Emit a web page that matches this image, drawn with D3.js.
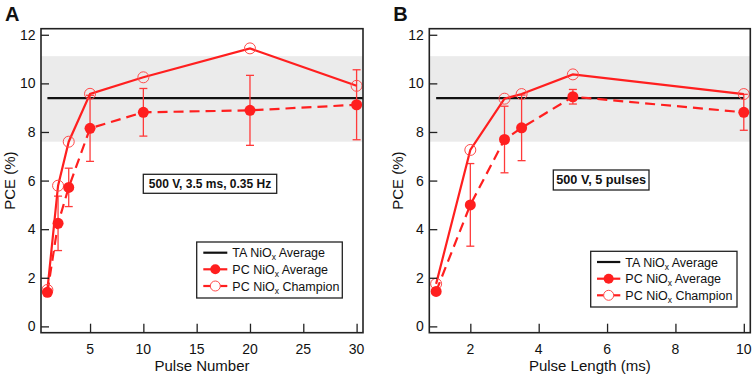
<!DOCTYPE html>
<html><head><meta charset="utf-8">
<script src="https://cdn.jsdelivr.net/npm/d3@7"></script>
<style>body{margin:0;background:#fff}svg{display:block}text{font-family:Arial,"Liberation Sans",sans-serif;fill:#111}</style>
</head><body><svg id="c" width="754" height="374"></svg>
<script>
// ---- data ----
const pulseNumber = [1, 2, 3, 5, 10, 20, 30];
const avgA   = [1.40, 4.24, 5.72, 8.15, 8.81, 8.89, 9.12];
const errA   = [0.10, 1.12, 0.79, 1.36, 0.98, 1.44, 1.44];
const champA = [1.50, 5.79, 7.60, 9.57, 10.25, 11.44, 9.90];

const pulseLength = [1, 2, 3, 3.5, 5, 10];
const avgB   = [1.44, 5.00, 7.69, 8.17, 9.45, 8.81];
const errB   = [0.10, 1.70, 1.37, 1.35, 0.30, 0.74];
const champB = [1.75, 7.26, 9.37, 9.56, 10.37, 9.56];

const taAverage = 9.39;
const taBand = [7.60, 11.12];

const yTicks = [0, 2, 4, 6, 8, 10, 12];
const xTicksA = [5, 10, 15, 20, 25, 30];
const xTicksB = [2, 4, 6, 8, 10];
const legendLabels = ["TA NiO|x| Average", "PC NiO|x| Average", "PC NiO|x| Champion"];

const svg = d3.select("#c");
const RED = "#ff1f1f", RED2 = "#ff4a4a", ERR = "#ff3a3a";

function panel(o) {
  const x = d3.scaleLinear().domain(o.xDom).range([o.left, o.right]);
  const y = d3.scaleLinear().domain([-0.26, 12.25]).range([332.7, 28.7]);
  const g = svg.append("g");
  // band
  g.append("rect").attr("x", o.left).attr("width", o.right - o.left)
    .attr("y", y(taBand[1])).attr("height", y(taBand[0]) - y(taBand[1])).attr("fill", "#ebebeb");
  // TA average line
  g.append("line").attr("x1", x(1)).attr("x2", x(o.taEnd)).attr("y1", y(taAverage)).attr("y2", y(taAverage))
    .attr("stroke", "#111").attr("stroke-width", 2.2);
  // error bars
  const eb = g.append("g").attr("stroke", ERR).attr("stroke-width", 1.3);
  o.xs.forEach((xv, i) => {
    const cx = x(xv), y1 = y(o.avg[i] - o.err[i]), y2 = y(o.avg[i] + o.err[i]);
    eb.append("line").attr("x1", cx).attr("x2", cx).attr("y1", y1).attr("y2", y2);
    eb.append("line").attr("x1", cx - 4).attr("x2", cx + 4).attr("y1", y1).attr("y2", y1);
    eb.append("line").attr("x1", cx - 4).attr("x2", cx + 4).attr("y1", y2).attr("y2", y2);
  });
  const line = d3.line().x(d => x(d[0])).y(d => y(d[1]));
  g.append("path").attr("d", line(o.xs.map((v, i) => [v, o.avg[i]])))
    .attr("fill", "none").attr("stroke", RED).attr("stroke-width", 2.2).attr("stroke-dasharray", "10,6");
  g.append("path").attr("d", line(o.xs.map((v, i) => [v, o.champ[i]])))
    .attr("fill", "none").attr("stroke", RED).attr("stroke-width", 2.2);
  o.xs.forEach((xv, i) => {
    g.append("circle").attr("cx", x(xv)).attr("cy", y(o.champ[i])).attr("r", 5.5)
      .attr("fill", "none").attr("stroke", RED2).attr("stroke-width", 1);
  });
  o.xs.forEach((xv, i) => {
    g.append("circle").attr("cx", x(xv)).attr("cy", y(o.avg[i])).attr("r", 5.5).attr("fill", RED);
  });
  // frame
  g.append("rect").attr("x", o.left).attr("y", 28.7).attr("width", o.right - o.left).attr("height", 304)
    .attr("fill", "none").attr("stroke", "#222").attr("stroke-width", 1.6);
  // axes (inward ticks)
  const ya = g.append("g").attr("transform", `translate(${o.left},0)`)
    .call(d3.axisRight(y).tickValues(yTicks).tickSize(8).tickFormat(""));
  ya.select(".domain").remove();
  ya.selectAll("line").attr("stroke", "#222").attr("stroke-width", 1.3);
  yTicks.forEach(t => g.append("text").attr("x", o.left - 5.5).attr("y", y(t) + 5)
    .attr("text-anchor", "end").attr("font-size", 14).text(t));
  const xa = g.append("g").attr("transform", `translate(0,332.7)`)
    .call(d3.axisTop(x).tickValues(o.xTicks).tickSize(9).tickFormat(""));
  xa.select(".domain").remove();
  xa.selectAll("line").attr("stroke", "#222").attr("stroke-width", 1.3);
  o.xTicks.forEach(t => g.append("text").attr("x", x(t)).attr("y", 353.5)
    .attr("text-anchor", "middle").attr("font-size", 14).text(t));
  // titles
  g.append("text").attr("x", (o.left + o.right) / 2).attr("y", 370.5).attr("text-anchor", "middle")
    .attr("font-size", 15).text(o.xTitle);
  g.append("text").attr("transform", `translate(${o.left - 26},180.7) rotate(-90)`).attr("text-anchor", "middle")
    .attr("font-size", 15).text("PCE (%)");
  g.append("text").attr("x", o.left - 36).attr("y", 21).attr("font-size", 20).attr("font-weight", "bold").text(o.letter);
  // annotation
  g.append("rect").attr("x", o.ann.x0).attr("y", o.ann.y0).attr("width", o.ann.x1 - o.ann.x0)
    .attr("height", o.ann.y1 - o.ann.y0).attr("fill", "#fff").attr("stroke", "#222").attr("stroke-width", 1.3);
  g.append("text").attr("x", (o.ann.x0 + o.ann.x1) / 2).attr("y", (o.ann.y0 + o.ann.y1) / 2 + 4.3)
    .attr("text-anchor", "middle").attr("font-weight", "bold").attr("font-size", o.ann.fs).text(o.ann.text);
  // legend
  const L = o.leg;
  g.append("rect").attr("x", L.x0).attr("y", L.y0).attr("width", L.x1 - L.x0).attr("height", L.y1 - L.y0)
    .attr("fill", "#fff").attr("stroke", "#222").attr("stroke-width", 1.3);
  legendLabels.forEach((lab, i) => {
    const ry = L.rows[i];
    g.append("line").attr("x1", L.sx0).attr("x2", L.sx1).attr("y1", ry).attr("y2", ry)
      .attr("stroke", i === 0 ? "#111" : RED).attr("stroke-width", 2.2);
    const mx = (L.sx0 + L.sx1) / 2;
    if (i === 1) g.append("circle").attr("cx", mx).attr("cy", ry).attr("r", 5).attr("fill", RED);
    if (i === 2) g.append("circle").attr("cx", mx).attr("cy", ry).attr("r", 5).attr("fill", "#fff")
      .attr("stroke", RED2).attr("stroke-width", 1);
    const parts = lab.split("|");
    const t = g.append("text").attr("x", L.tx).attr("y", ry + 4.5).attr("font-size", 12.5);
    t.append("tspan").text(parts[0]);
    t.append("tspan").attr("font-size", 8.5).attr("dy", 3).text(parts[1]);
    t.append("tspan").attr("dy", -3).text(parts[2]);
  });
}

panel({
  left: 41, right: 363, xDom: [0.4, 30.6], taEnd: 30.6, xs: pulseNumber, avg: avgA, err: errA, champ: champA,
  xTicks: xTicksA, xTitle: "Pulse Number", letter: "A",
  ann: {x0: 143.3, x1: 276.7, y0: 174.3, y1: 193.3, fs: 12, text: "500 V, 3.5 ms, 0.35 Hz"},
  leg: {x0: 196.7, x1: 342.3, y0: 242, y1: 298, rows: [252.7, 269.3, 286], sx0: 203.3, sx1: 227.3, tx: 232.3}
});
panel({
  left: 429.3, right: 750.3, xDom: [0.8, 10.19], taEnd: 10, xs: pulseLength, avg: avgB, err: errB, champ: champB,
  xTicks: xTicksB, xTitle: "Pulse Length (ms)", letter: "B",
  ann: {x0: 553.3, x1: 649, y0: 170, y1: 190, fs: 12.7, text: "500 V, 5 pulses"},
  leg: {x0: 590.7, x1: 737, y0: 251.3, y1: 307, rows: [262, 278.7, 295.3], sx0: 597, sx1: 620.3, tx: 625.3}
});
</script></body></html>
